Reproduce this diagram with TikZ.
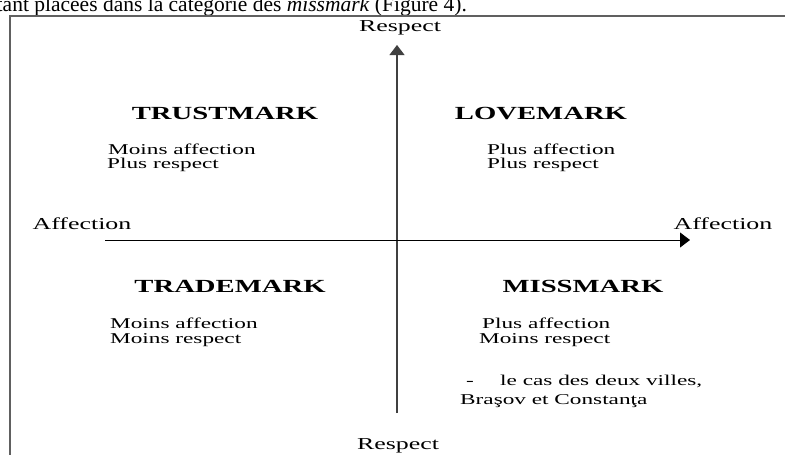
\documentclass[tikz,border=0pt]{standalone}
\usepackage{fontspec}
\setmainfont[FakeStretch=1.55]{Liberation Serif}
\newfontfamily\pagefont{Liberation Serif}
\usetikzlibrary{arrows.meta}

\begin{document}
\begin{tikzpicture}[x=1pt, y=-1pt,
    axislabel/.style={font=\fontsize{16.7}{18}\selectfont, inner sep=0pt},
    quadtitle/.style={font=\bfseries\fontsize{18.5}{20}\selectfont, inner sep=0pt},
    quadtext/.style={font=\fontsize{15}{15}\selectfont, inner sep=0pt, anchor=base west},
    axisline/.style={line width=1.1pt, -{Triangle[width=15pt, length=10pt]}}]
	\useasboundingbox (0,0) rectangle (785,455);
	\clip (0,0) rectangle (785,455);

	% Page text above the figure (cut off)
	\node[anchor=base west, inner sep=0pt, font=\pagefont\fontsize{21.5}{22}\selectfont] (pagetext) at (-13,12)
		{étant placées dans la catégorie des \textit{missmark} (Figure 4).};

	% Frame
	\draw[gray!75!black, line width=1.8pt] (10,460) -- (10,16) -- (790,16);

	% Axes
	\coordinate (vlow) at (397,413);
	\coordinate (vtop) at (397,45);
	\coordinate (hleft) at (105,240);
	\coordinate (hright) at (690,240);
	\draw[axisline, black!75] (vlow) -- (vtop);
	\draw[axisline, line width=0.9pt] (hleft) -- (hright);

	% Axis labels
	\node[axislabel, anchor=base] (resptop) at (400,31) {Respect};
	\node[axislabel, anchor=base] (respbot) at (398,449) {Respect};
	\node[axislabel, anchor=base] (affleft) at (82,229) {Affection};
	\node[axislabel, anchor=base] (affright) at (723,229) {Affection};

	% Quadrants
	\node[quadtitle, anchor=base] (trust) at (225,119) {TRUSTMARK};
	\node[quadtext] (trust1) at (108,154) {Moins affection};
	\node[quadtext] (trust2) at (107,168) {Plus respect};

	\node[quadtitle, anchor=base] (love) at (541,119) {LOVEMARK};
	\node[quadtext] (love1) at (487,154) {Plus affection};
	\node[quadtext] (love2) at (487,168) {Plus respect};

	\node[quadtitle, anchor=base] (trade) at (230,292) {TRADEMARK};
	\node[quadtext] (trade1) at (110,328) {Moins affection};
	\node[quadtext] (trade2) at (110,343) {Moins respect};

	\node[quadtitle, anchor=base] (miss) at (583,292) {MISSMARK};
	\node[quadtext] (miss1) at (482,328) {Plus affection};
	\node[quadtext] (miss2) at (479,343) {Moins respect};
	\node[quadtext] (missdash) at (466,385) {-};
	\node[quadtext] (miss3) at (500,385) {le cas des deux villes,};
	\node[quadtext] (miss4) at (460,404) {Braşov et Constanţa};
\end{tikzpicture}
\end{document}
